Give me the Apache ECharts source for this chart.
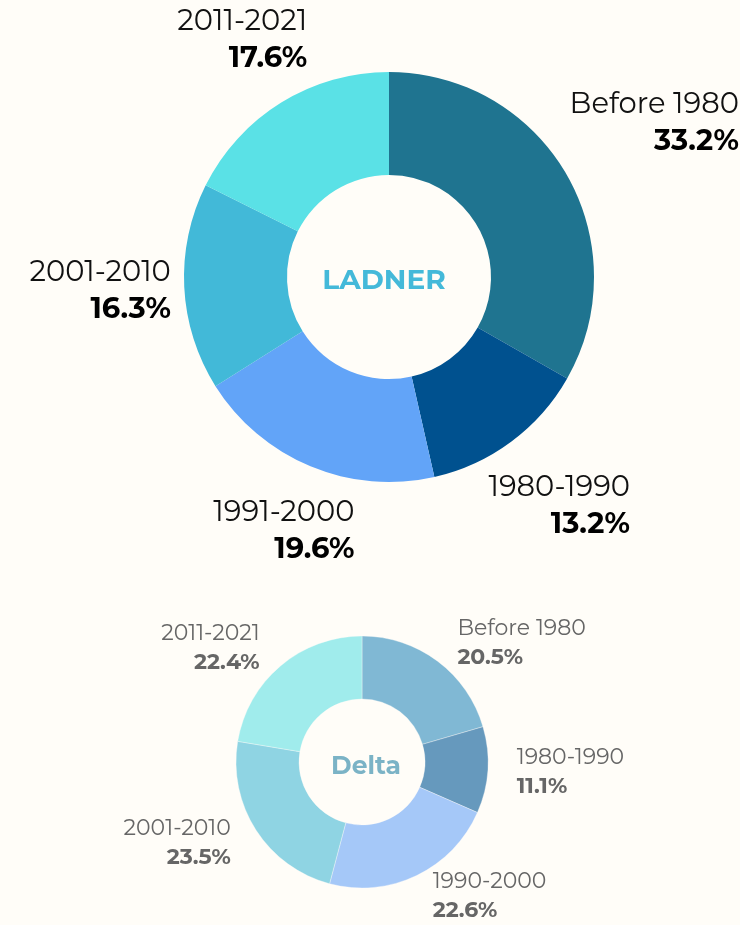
<!DOCTYPE html>
<html>
<head>
<meta charset="utf-8">
<script src="https://cdn.jsdelivr.net/npm/echarts@6/dist/echarts.min.js"></script>
<style>
html,body{margin:0;padding:0;background:#fffdf8;}
#chart{width:740px;height:925px;}
</style>
</head>
<body>
<div id="chart"></div>
<script>
const ladnerCategories = ['Before 1980', '1980-1990', '1991-2000', '2001-2010', '2011-2021'];
const ladnerValues = [33.2, 13.2, 19.6, 16.3, 17.6];
const ladnerColors = ['#1f7490', '#00518f', '#62a4f8', '#42b9d8', '#5ae1e6'];

const deltaCategories = ['Before 1980', '1980-1990', '1990-2000', '2001-2010', '2011-2021'];
const deltaValues = [20.5, 11.1, 22.6, 23.5, 22.4];
const deltaColors = ['#80b8d4', '#6699bd', '#a5c8f8', '#8fd4e3', '#a0ecec'];

const FONT = 'Montserrat, "Noto Sans", "DejaVu Sans", sans-serif';
const BIG_CENTER = [389, 277];
const BIG_RADIUS = [102, 205];
const BIG_LABEL_GAP = 12;

function mk(cats, vals, cols) {
  return cats.map((c, i) => ({ name: c, value: vals[i], itemStyle: { color: cols[i] } }));
}
function fmt(p) { return '{n|' + p.name + '}\n{v|' + p.value.toFixed(1) + '%}'; }

const chart = echarts.init(document.getElementById('chart'));
chart.setOption({
  backgroundColor: '#fffdf8',
  animation: false,
  title: [
    { text: 'LADNER', left: 379, top: 276, textAlign: 'center', textVerticalAlign: 'middle',
      textStyle: { fontFamily: FONT, fontSize: 28, fontWeight: 'bold', color: '#44b9d9' } },
    { text: 'Delta', left: 361, top: 762, textAlign: 'center', textVerticalAlign: 'middle',
      textStyle: { fontFamily: FONT, fontSize: 25, fontWeight: 'bold', color: '#7bb3c6' } }
  ],
  series: [
    {
      type: 'pie', center: BIG_CENTER, radius: BIG_RADIUS, startAngle: 90,
      silent: true, label: { show: false }, labelLine: { show: false },
      data: mk(ladnerCategories, ladnerValues, ladnerColors)
    },
    {
      // transparent ring carrying the LADNER labels, pushed outward along each slice's mid-angle
      type: 'pie', center: BIG_CENTER, radius: [BIG_RADIUS[1], BIG_RADIUS[1] + 120], startAngle: 90,
      silent: true, labelLine: { show: false },
      itemStyle: { color: 'rgba(0,0,0,0)' },
      data: ladnerCategories.map((c, i) => ({ name: c, value: ladnerValues[i] })),
      label: {
        show: true, position: 'inside', rotate: 0, formatter: fmt,
        textBorderWidth: 0,
        rich: {
          n: { align: 'right', fontFamily: FONT, fontSize: 29, color: '#111', lineHeight: 37 },
          v: { align: 'right', fontFamily: FONT, fontSize: 29, fontWeight: 'bold', color: '#000', lineHeight: 37 }
        }
      },
      labelLayout: function (p) {
        const r = p.labelRect;
        const lx = r.x + r.width / 2, ly = r.y + r.height / 2;
        const dx = lx - BIG_CENTER[0], dy = ly - BIG_CENTER[1];
        const len = Math.hypot(dx, dy) || 1;
        const ux = dx / len, uy = dy / len;
        const d = BIG_RADIUS[1] + BIG_LABEL_GAP + Math.abs(ux) * r.width / 2 + Math.abs(uy) * r.height / 2;
        return { x: BIG_CENTER[0] + ux * d, y: BIG_CENTER[1] + uy * d, align: 'center', verticalAlign: 'middle' };
      }
    },
    {
      type: 'pie', center: [362, 762], radius: [63, 126], startAngle: 90,
      silent: true, avoidLabelOverlap: false,
      itemStyle: { borderColor: 'rgba(255,253,248,0.5)', borderWidth: 0.7 },
      labelLine: { show: false, length: 23, length2: 0 },
      data: mk(deltaCategories, deltaValues, deltaColors),
      label: {
        show: true, position: 'outside', distanceToLabelLine: 6, formatter: fmt,
        rich: {
          n: { fontFamily: FONT, fontSize: 22, color: '#666', lineHeight: 29 },
          v: { fontFamily: FONT, fontSize: 22, fontWeight: 'bold', color: '#666', lineHeight: 29 }
        }
      }
    }
  ]
});
</script>
</body>
</html>
